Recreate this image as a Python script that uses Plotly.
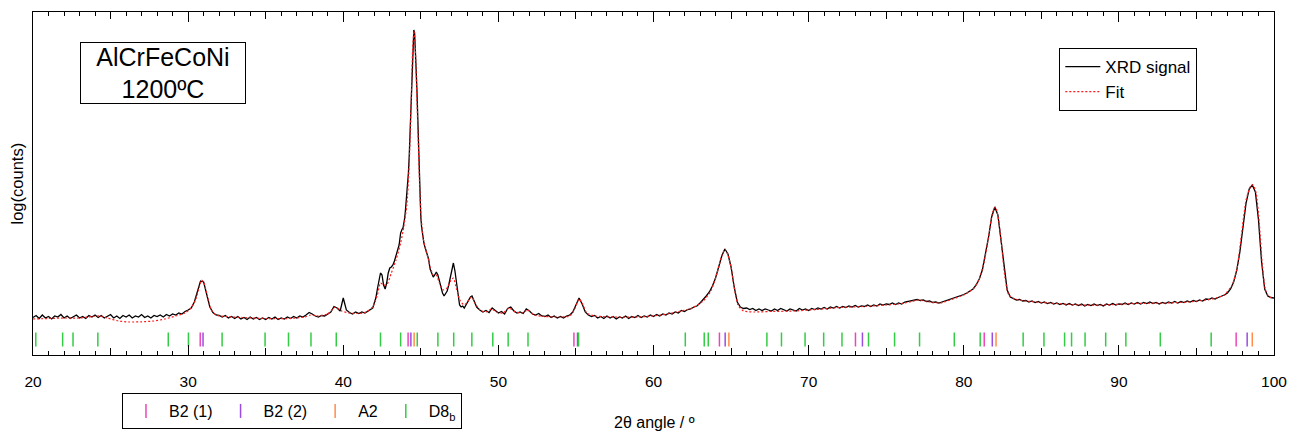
import numpy as np
import plotly.graph_objects as go

# ---------------- data ----------------
# XRD signal, in segments of constant 2theta step: (start, step, values)
sig_seg1_start, sig_seg1_step = 20.0, 0.2
sig_seg1 = [37.5, 39.5, 36.5, 40, 37, 38.5, 36, 39, 38, 40.5,
            37, 39, 36.5, 38, 40, 37, 38.5, 36.5, 39.5, 38,
            40, 37.5, 39.5, 37, 38.5, 40.5, 37, 39, 36.5, 39.5,
            38, 40, 37, 39, 38, 40.5, 37.5, 39, 37, 39.5,
            38.5, 40, 38, 40.5, 39, 41, 40, 42, 41, 43.5,
            45, 47, 53, 63, 74, 73, 60, 48, 42.5, 40,
            39.5, 38, 39.5, 37, 38.5, 36.5, 38.5, 36, 37.5, 35.5,
            38, 36, 37.5, 35.5, 37, 35.5, 37.5, 36, 38, 35.5,
            37, 36, 38, 36.5, 38.5, 37, 39, 38, 40, 42.5,
            41, 39, 38, 39.5, 39, 41, 43, 48.5, 47, 44,
            57, 45, 42.5, 41, 43, 41.5, 43, 42, 44, 45.5]
sig_seg2_start, sig_seg2_step = 41.9, 0.1
sig_seg2 = [47, 52, 57, 66, 76, 82, 80, 70, 66, 72,
            82, 87, 88, 90, 94, 99, 104, 110, 122]
sig_seg3_start, sig_seg3_step = 43.75, 0.05
sig_seg3 = [125, 126, 127, 131, 136, 143, 152, 160, 168, 182,
            198, 220, 240, 275, 300, 318, 325, 322, 308, 285,
            265, 235, 208, 175, 152, 138, 128, 121, 116, 112,
            109, 106, 104]
sig_seg4_start, sig_seg4_step = 45.4, 0.1
sig_seg4 = [101, 96, 86, 81, 78, 80, 83, 80, 74, 67,
            62, 59, 61, 64, 70, 78, 87, 92, 84, 72,
            58, 50, 48, 49, 47, 50, 53, 56, 58, 59,
            55, 51, 48]
sig_seg5_start, sig_seg5_step = 48.8, 0.2
sig_seg5 = [45, 43, 44.5, 42.5, 47, 44, 42, 43.5, 41, 46.5,
            48, 44, 42, 43, 41.5, 46, 44, 41, 40, 41.5,
            39, 38.5, 40, 37.5, 39, 37, 38.5, 37, 39, 40,
            43, 50, 57, 51, 43, 40, 38.5, 39.5, 37, 38.5,
            36.5, 39, 37, 38.5, 36, 38, 37, 39, 36.5, 38.5,
            37.5, 39.5, 37.5, 39, 38, 40, 38.5, 40.5, 39, 41,
            40, 42, 41, 43, 42, 44.5, 43.5, 45.5, 46, 48,
            49, 52, 55, 59, 63, 69, 77, 88, 99, 106,
            101, 88, 68, 53, 48, 46.5, 47, 45.5, 46.5, 44.5,
            46, 44.5, 46, 45, 44, 46, 44.5, 46.5, 45, 44,
            46, 45, 44, 46.5, 45, 46, 44.5, 46.5, 45.5, 47,
            46, 47.5, 46, 48, 47, 48.5, 47, 48.5, 47.5, 49,
            48, 49.5, 48, 49, 48.5, 50, 48.5, 50, 49, 51,
            50, 51, 50.5, 52, 50.5, 52, 51, 53, 53.5, 54.5,
            55, 55.5, 54.5, 55, 53.5, 54, 52.5, 53, 52, 53,
            54, 55, 56, 57, 58, 59, 60.5, 62, 64, 66,
            70, 76, 85, 100, 118, 138, 148, 140, 115, 86,
            65, 58, 56.5, 55, 55.5, 54, 54.5, 53, 54, 52.5,
            53.5, 52, 53, 51.5, 52.5, 51, 52, 50.5, 51.5, 50,
            51.5, 50, 51, 49.5, 51, 49, 50.5, 49.5, 51, 49.5,
            50.5, 49, 51, 50, 51.5, 50, 51, 50.5, 52, 50.5,
            52, 51, 52.5, 51, 52.5, 51.5, 53, 51.5, 52.5, 51,
            52.5, 51.5, 53, 52, 53.5, 52, 53.5, 52.5, 54, 53,
            54.5, 53.5, 55, 54, 56, 55.5, 57, 56, 57.5, 58.5,
            60, 62, 66, 73, 85, 103, 128, 152, 166, 170,
            163, 135, 93, 66, 59, 57.5, 57]

# Fit curve, key points (2theta, value)
fit_tt = [20.0, 21.0, 22.0, 23.0, 23.8, 24.3, 24.8, 25.5, 26.2, 27.0, 27.8, 28.5,
          29.2, 29.8, 30.2, 30.5, 30.7, 30.88, 31.05, 31.25, 31.5, 31.8, 32.4, 33.5,
          35.0, 36.5, 37.5, 37.9, 38.4, 39.0, 39.5, 39.9, 40.4, 41.0, 41.5, 41.9,
          42.2, 42.4, 42.6, 42.8, 43.1, 43.4, 43.7, 43.9, 44.1, 44.25, 44.38, 44.47,
          44.56, 44.65, 44.74, 44.83, 44.92, 45.02, 45.15, 45.3, 45.45, 45.6, 45.8, 46.0,
          46.2, 46.45, 46.7, 46.95, 47.1, 47.3, 47.55, 47.8, 48.05, 48.28, 48.5, 48.8,
          49.2, 49.55, 49.9, 50.3, 50.7, 51.1, 51.5, 51.9, 52.3, 53.0, 54.0, 54.6,
          54.95, 55.2, 55.4, 55.7, 56.2, 57.5, 59.0, 60.5, 61.5, 62.5, 63.2, 63.7,
          64.1, 64.4, 64.6, 64.8, 65.0, 65.2, 65.45, 65.8, 66.5, 67.5, 69.0, 70.5,
          72.0, 73.5, 75.0, 75.8, 76.5, 77.1, 77.8, 78.5, 79.3, 80.0, 80.6, 81.0,
          81.3, 81.6, 81.85, 82.05, 82.25, 82.45, 82.65, 82.9, 83.3, 84.0, 85.5, 87.5,
          89.0, 91.0, 93.0, 94.5, 96.0, 96.8, 97.3, 97.6, 97.9, 98.2, 98.5, 98.65,
          98.85, 99.05, 99.25, 99.45, 99.7, 100.0]
fit_val = [36, 36.5, 37, 37, 38.5, 39, 37, 34, 33, 33.2, 34, 36,
           39, 42, 47, 56, 67, 75, 71, 58, 45, 40, 38.5, 37.5,
           36.5, 36.5, 38, 40, 39, 41, 48, 44, 42, 41.5, 43, 48,
           60, 72, 70, 70, 82, 95, 112, 128, 150, 190, 255, 305,
           324, 305, 260, 215, 170, 138, 117, 106, 98, 88, 80, 80,
           72, 65, 67, 75, 77, 66, 54, 50, 54, 58, 52, 45,
           43, 46, 43, 42, 47, 43, 42, 45, 40, 38.5, 38, 39,
           47, 56, 52, 42, 39, 38, 38, 40, 43, 47, 54, 64,
           82, 99, 106, 100, 88, 68, 50, 44, 43, 43.5, 44, 45.5,
           47.5, 48.5, 50, 51, 53, 55, 53, 52, 56, 60, 66, 76,
           92, 118, 142, 148, 135, 108, 78, 60, 56, 54, 52, 50,
           50, 51.5, 52, 53, 56, 60, 70, 85, 120, 155, 169, 170,
           162, 132, 90, 65, 58, 57]

# Phase reflection positions (2theta)
pos_B2_1 = [30.78, 44.18, 54.87, 64.25, 73.02, 81.32, 97.56]
pos_B2_2 = [30.96, 44.36, 55.10, 64.62, 73.47, 81.84, 98.27]
pos_A2 = [44.57, 64.86, 82.08, 98.60]
pos_D8b = [20.18, 21.91, 22.58, 24.18, 28.72, 30.02, 32.19, 34.96, 36.47, 37.92,
           39.55, 42.40, 43.70, 44.77, 46.10, 47.12, 48.29, 49.64, 50.63, 51.91,
           55.17, 62.05, 63.27, 63.53, 67.31, 68.25, 69.77, 70.97, 72.15, 73.86,
           75.54, 77.15, 79.39, 81.06, 83.83, 85.17, 86.50, 86.95, 87.82, 89.15,
           90.45, 92.67, 95.95]

x_ticks = [20, 30, 40, 50, 60, 70, 80, 90, 100]

# ---------------- build ----------------
segs = [(sig_seg1_start, sig_seg1_step, sig_seg1), (sig_seg2_start, sig_seg2_step, sig_seg2),
        (sig_seg3_start, sig_seg3_step, sig_seg3), (sig_seg4_start, sig_seg4_step, sig_seg4),
        (sig_seg5_start, sig_seg5_step, sig_seg5)]
sig_x, sig_y = [], []
for s0, st, vals in segs:
    sig_x.extend(list(s0 + st * np.arange(len(vals))))
    sig_y.extend(vals)

FONT = "Liberation Sans, Arial, sans-serif"
fig = go.Figure()

fig.add_trace(go.Scatter(x=sig_x, y=sig_y, mode="lines", name="XRD signal",
                         line=dict(color="black", width=1.3), legend="legend"))
fig.add_trace(go.Scatter(x=fit_tt, y=fit_val, mode="lines", name="Fit",
                         line=dict(color="#ff1a1a", width=1.2, dash="2px,2px", shape="spline",
                                   smoothing=0.6),
                         legend="legend"))

MARK_Y = 15.5
phases = [("B2 (1)", pos_B2_1, "#ee44bb"), ("B2 (2)", pos_B2_2, "#9b4de0"),
          ("A2", pos_A2, "#ff8c4a"), ("D8<sub>b</sub>", pos_D8b, "#33cc44")]
for name, pos, col in phases:
    fig.add_trace(go.Scatter(x=pos, y=[MARK_Y] * len(pos), mode="markers", name=name,
                             marker=dict(symbol="line-ns", size=10, color=col,
                                         line=dict(width=1.5, color=col)),
                             legend="legend2"))

# helper traces for the extra tick axes
for ax in ["x2", "x3", "x4"]:
    fig.add_trace(go.Scatter(x=[20], y=[None], xaxis=ax, showlegend=False, hoverinfo="skip"))

tick_common = dict(range=[20, 100], tickwidth=1, tickcolor="black", showgrid=False,
                   zeroline=False, automargin=False)

fig.update_layout(
    width=1299, height=436,
    margin=dict(l=33, r=25, t=12, b=81, autoexpand=False),
    paper_bgcolor="white", plot_bgcolor="white",
    font=dict(family=FONT, color="black", size=16),
    xaxis=dict(**tick_common, tickvals=x_ticks, ticks="inside", ticklen=10,
               showline=True, linecolor="black", linewidth=1, mirror=True,
               tickfont=dict(size=15.5, family=FONT), ticklabelstandoff=12,
               minor=dict(dtick=1, tick0=0, ticks="inside", ticklen=4, tickcolor="black", tickwidth=1)),
    xaxis2=dict(**tick_common, overlaying="x", anchor="y", side="bottom", tick0=5, dtick=10,
                ticks="inside", ticklen=7, showticklabels=False, showline=False),
    xaxis3=dict(**tick_common, overlaying="x", anchor="y", side="top", tickvals=x_ticks,
                ticks="inside", ticklen=10, showticklabels=False, showline=False,
                minor=dict(dtick=1, tick0=0, ticks="inside", ticklen=4, tickcolor="black", tickwidth=1)),
    xaxis4=dict(**tick_common, overlaying="x", anchor="y", side="top", tick0=5, dtick=10,
                ticks="inside", ticklen=7, showticklabels=False, showline=False),
    yaxis=dict(range=[0, 343], showticklabels=False, ticks="", showline=True, linecolor="black",
               linewidth=1, mirror=True, showgrid=False, zeroline=False, automargin=False),
    legend=dict(x=0.827, y=0.895, xanchor="left", yanchor="top", bgcolor="white",
                bordercolor="black", borderwidth=1, font=dict(size=17, family=FONT),
                tracegroupgap=0, itemwidth=35),
    legend2=dict(x=0.0717, y=-0.1108, xanchor="left", yanchor="top", orientation="h",
                 bgcolor="white", bordercolor="black", borderwidth=1,
                 font=dict(size=16, family=FONT), itemwidth=36),
    annotations=[
        dict(text="AlCrFeCoNi<br>1200ºC", x=0.1044, y=0.822, xref="paper", yref="paper",
             xanchor="center", yanchor="middle", showarrow=False, font=dict(size=25, family=FONT),
             bordercolor="black", borderwidth=1, borderpad=1, bgcolor="white", width=162, height=58),
        dict(text="log(counts)", textangle=-90, x=-0.0129, y=0.5, xref="paper", yref="paper",
             xanchor="center", yanchor="middle", showarrow=False, font=dict(size=16.5, family=FONT)),
        dict(text="2θ angle / º", x=0.501, y=-0.198, xref="paper", yref="paper",
             xanchor="center", yanchor="middle", showarrow=False, font=dict(size=16, family=FONT)),
    ],
    showlegend=True,
)

fig.write_html("out.html", config={"displayModeBar": False},
               post_script="document.body.style.margin='0';")
